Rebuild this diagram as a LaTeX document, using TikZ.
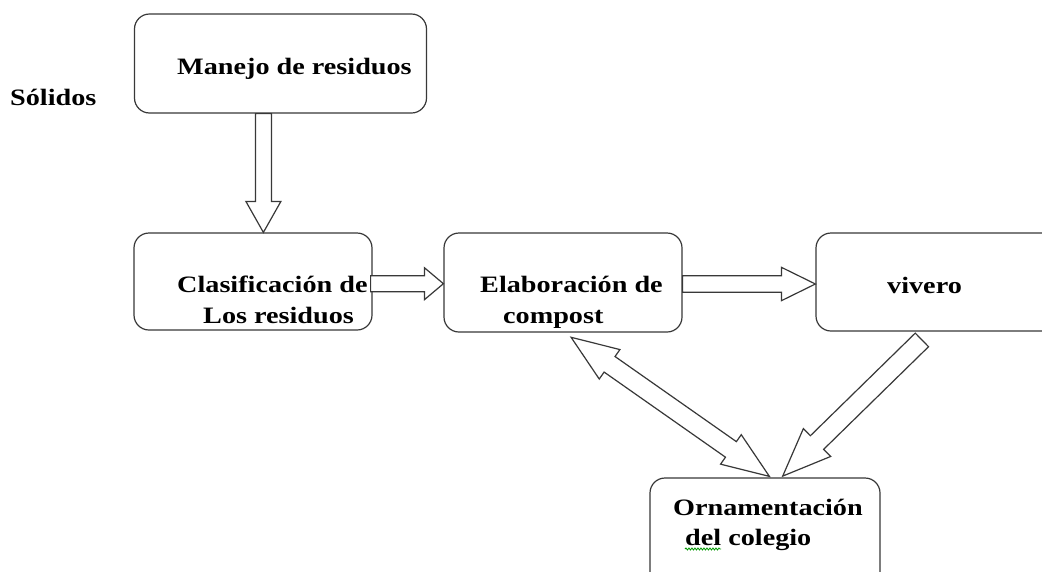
\documentclass[tikz,border=0pt]{standalone}
\usepackage{fontspec}
\newfontfamily\tf[FakeStretch=1.2]{Liberation Serif Bold}
\usetikzlibrary{calc,decorations.pathmorphing}
\tikzset{
  box/.style={draw=black!78, line width=1.2pt, rounded corners=15pt, inner sep=0pt},
  lbl/.style={anchor=base west, inner sep=0pt, font=\tf\fontsize{23.5}{28}\selectfont, text=black},
  barrow/.style={draw=black!78, line width=1.2pt, fill=white, line join=miter}
}
% single block arrow: start, end, half shaft, half head, head length
\newcommand{\blockarrow}[5]{%
  \path ($(#2)!#5!(#1)$) coordinate (ba-h);
  \draw[barrow] ($(#1)!#3!90:(#2)$) -- ($(ba-h)!#3!90:(#2)$) -- ($(ba-h)!#4!90:(#2)$) -- (#2)
    -- ($(ba-h)!#4!-90:(#2)$) -- ($(ba-h)!#3!-90:(#2)$) -- ($(#1)!#3!-90:(#2)$) -- cycle;
}
% double block arrow
\newcommand{\dblockarrow}[5]{%
  \path ($(#1)!#5!(#2)$) coordinate (da-a) ($(#2)!#5!(#1)$) coordinate (da-b);
  \draw[barrow] (#1) -- ($(da-a)!#4!90:(#2)$) -- ($(da-a)!#3!90:(#2)$) -- ($(da-b)!#3!90:(#2)$)
    -- ($(da-b)!#4!90:(#2)$) -- (#2) -- ($(da-b)!#4!-90:(#2)$) -- ($(da-b)!#3!-90:(#2)$)
    -- ($(da-a)!#3!-90:(#2)$) -- ($(da-a)!#4!-90:(#2)$) -- cycle;
}
\begin{document}
\begin{tikzpicture}[x=1pt,y=-1pt]
\clip (0,0) rectangle (1042,571);
\fill[white] (0,0) rectangle (1042,571);

% boxes
\node[box, minimum width=292pt, minimum height=99pt] (manejo) at (280.5,63.5) {};
\node[box, minimum width=238pt, minimum height=97pt] (clasif) at (253,281.5) {};
\node[box, minimum width=238pt, minimum height=99pt] (elab) at (563,282.5) {};
\node[box, minimum width=250pt, minimum height=98pt] (vivero) at (941,282) {};
\node[box, minimum width=230pt, minimum height=122pt] (orn) at (765,539) {};

% texts
\node[lbl] (solidos) at (10,105) {Sólidos};
\node[lbl] (t1) at (177,74) {Manejo de residuos};
\node[lbl] (t2a) at (177,292) {Clasificación de};
\node[lbl] (t2b) at (203,323) {Los residuos};
\node[lbl] (t3a) at (480,292) {Elaboración de};
\node[lbl] (t3b) at (503,323) {compost};
\node[lbl] (t4) at (887,293) {vivero};
\node[lbl] (t5a) at (673,515) {Ornamentación};
\node[lbl] (t5b) at (685,545) {del colegio};
\draw[green!60!black, line width=0.8pt, decorate, decoration={snake, amplitude=1pt, segment length=3pt}]
  ($(t5b.base west)+(0,4)$) -- ($(t5b.base west)+(36,4)$);

% connector end points
\coordinate (a1s) at ($(manejo.south west)+(129.5,0)$);
\coordinate (a1e) at ($(clasif.north west)+(130,0)$);
\coordinate (a2s) at ($(clasif.east)+(-2,2.2)$);
\coordinate (a2e) at ($(elab.west)+(0,1.2)$);
\coordinate (a3s) at ($(elab.east)+(0,1.5)$);
\coordinate (a3e) at ($(vivero.west)+(0,2)$);
\coordinate (a4s) at ($(elab.south west)+(127.7,4.7)$);
\coordinate (a4e) at ($(orn.north west)+(120,-1)$);
\coordinate (a5s) at ($(vivero.south west)+(106.5,8.3)$);
\coordinate (a5e) at ($(orn.north west)+(133.3,-1.3)$);

% block arrows
\blockarrow{a1s}{a1e}{8pt}{17.5pt}{31pt}
\blockarrow{a2s}{a2e}{8pt}{16pt}{19pt}
\blockarrow{a3s}{a3e}{8.3pt}{16.7pt}{34pt}
\dblockarrow{a4s}{a4e}{9.5pt}{18pt}{47pt}
\blockarrow{a5s}{a5e}{9.5pt}{19.5pt}{48pt}
\end{tikzpicture}
\end{document}
